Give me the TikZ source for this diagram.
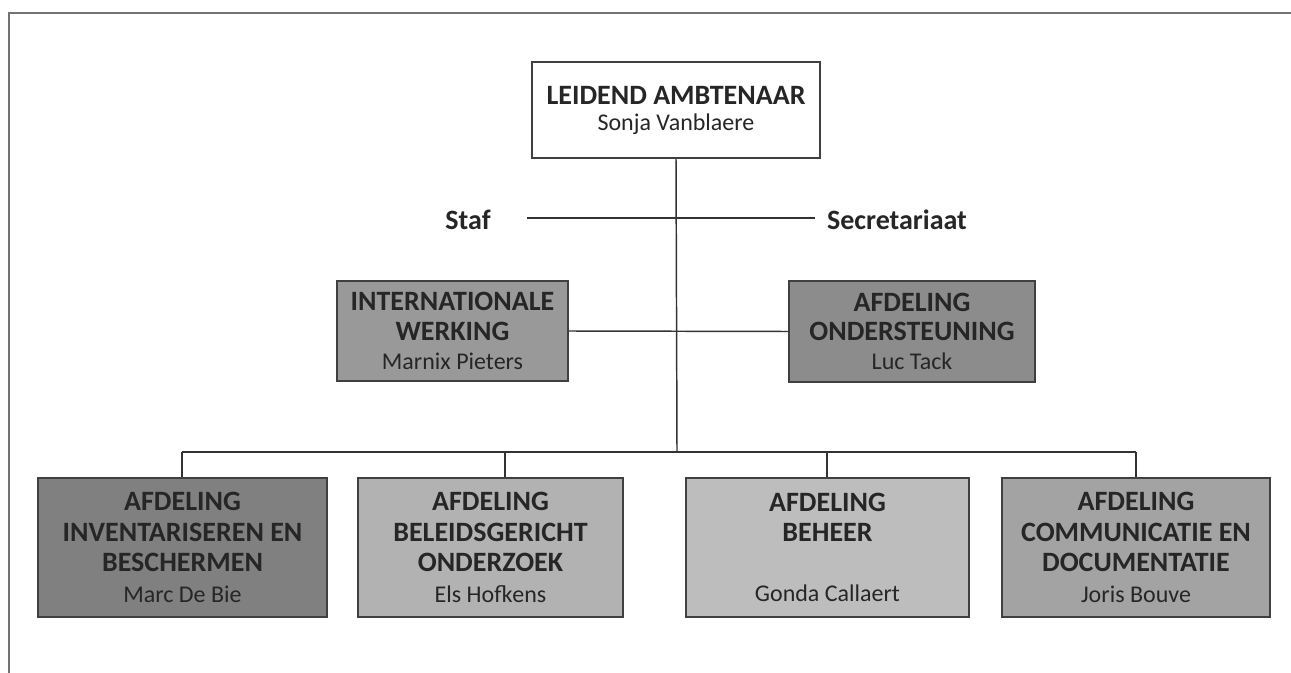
\documentclass[tikz,border=0pt]{standalone}
\usepackage{fontspec}
\setmainfont{Carlito}
\newcommand{\nmx}[1]{{\mdseries\fontsize{18}{22}\selectfont #1}}
\begin{document}
\begin{tikzpicture}[x=0.75pt,y=-0.75pt,
  conn/.style={draw=black!80,line width=1.1pt},
  box/.style={draw=black!75,line width=1.1pt,align=center,inner sep=0pt,text=black!85},
  lbl/.style={font=\fontsize{21}{24}\selectfont\bfseries,text=black!85}]
\useasboundingbox (0,0) rectangle (1291,673);
\draw[draw=black!55,line width=1.2pt] (9,673) -- (9,13) -- (1291,13);
% top box
\node[box,fill=white,minimum width=288*0.75pt,minimum height=96*0.75pt,
  font=\fontsize{21}{19.5}\selectfont\bfseries] (top) at (676,110)
  {LEIDEND AMBTENAAR\\\nmx{Sonja Vanblaere}};
% staf / secretariaat
\node[lbl] (staf) at (468,220) {Staf};
\node[lbl] (secr) at (897,220) {Secretariaat};
\coordinate (sl) at (527,218);
\coordinate (sr) at (815,218);
\draw[conn] (sl) -- (sr);
% middle boxes
\node[box,fill=black!40,minimum width=231*0.75pt,minimum height=100*0.75pt,
  font=\fontsize{21}{22}\selectfont\bfseries] (intl) at (452.5,331)
  {INTERNATIONALE\\WERKING\\\nmx{Marnix Pieters}};
\node[box,fill=black!45,minimum width=246*0.75pt,minimum height=101*0.75pt,
  font=\fontsize{21}{22}\selectfont\bfseries] (onder) at (912,331.5)
  {AFDELING\\ONDERSTEUNING\\\nmx{Luc Tack}};
\draw[conn] (intl.east) -- (onder.west);
% bottom boxes
\tikzset{bbox/.style={box,minimum height=139*0.75pt,font=\fontsize{21}{23}\selectfont\bfseries}}
\node[bbox,fill=black!50,minimum width=289*0.75pt] (b1) at (182.5,547.5)
  {AFDELING\\INVENTARISEREN EN\\BESCHERMEN\\\nmx{Marc De Bie}};
\node[bbox,fill=black!30,minimum width=265*0.75pt] (b2) at (490.5,547.5)
  {AFDELING\\BELEIDSGERICHT\\ONDERZOEK\\\nmx{Els Hofkens}};
\node[bbox,fill=black!26,minimum width=283*0.75pt] (b3) at (827.5,547.5)
  {AFDELING\\BEHEER\\[22pt]\nmx{Gonda Callaert}};
\node[bbox,fill=black!36,minimum width=268*0.75pt] (b4) at (1136,547.5)
  {AFDELING\\COMMUNICATIE EN\\DOCUMENTATIE\\\nmx{Joris Bouve}};
% connectors
\coordinate (bus) at (677,452);
\draw[conn] (top.south) -- (bus);
\coordinate (d1) at (182,452);
\coordinate (d2) at (505,452);
\coordinate (d3) at (827,452);
\coordinate (d4) at (1136,452);
\draw[conn] (d1) -- (d4);
\draw[conn] (d1) -- (d1 |- b1.north);
\draw[conn] (d2) -- (d2 |- b2.north);
\draw[conn] (d3) -- (d3 |- b3.north);
\draw[conn] (d4) -- (d4 |- b4.north);
\end{tikzpicture}
\end{document}
